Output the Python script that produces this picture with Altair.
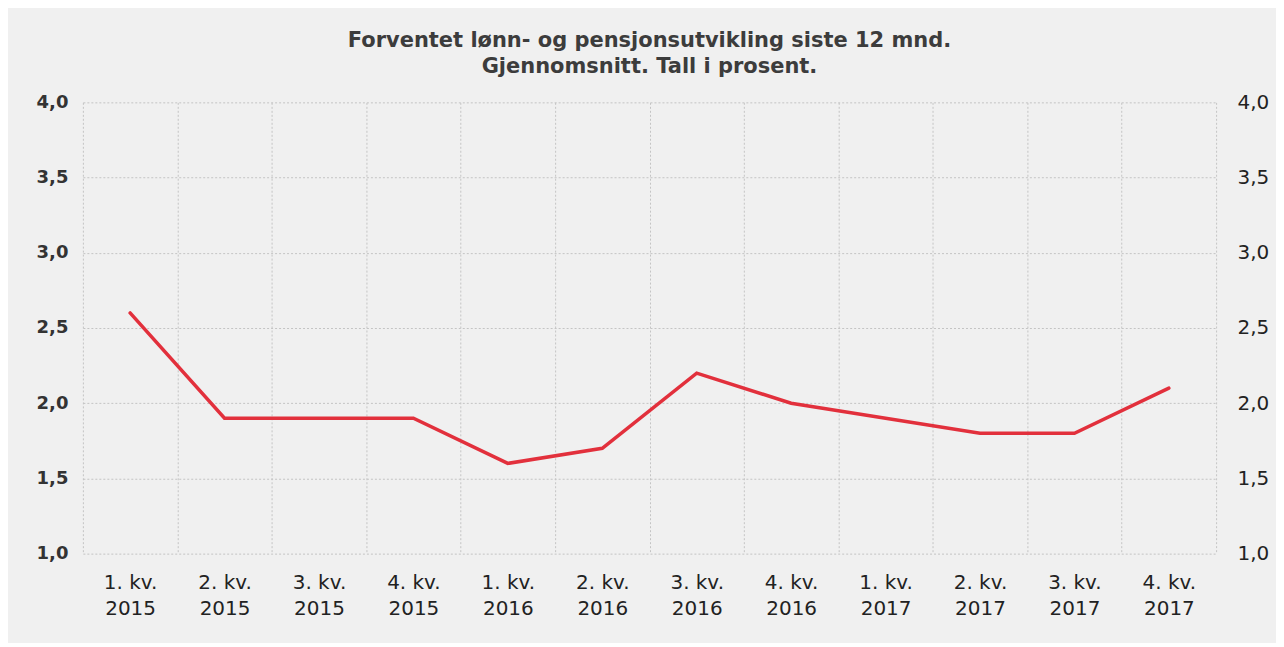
import altair as alt
import pandas as pd

quarters = ["1. kv. 2015", "2. kv. 2015", "3. kv. 2015", "4. kv. 2015",
            "1. kv. 2016", "2. kv. 2016", "3. kv. 2016", "4. kv. 2016",
            "1. kv. 2017", "2. kv. 2017", "3. kv. 2017", "4. kv. 2017"]
values = [2.6, 1.9, 1.9, 1.9, 1.6, 1.7, 2.2, 2.0, 1.9, 1.8, 1.8, 2.1]
y_ticks = [1.0, 1.5, 2.0, 2.5, 3.0, 3.5, 4.0]

df = pd.DataFrame({"q": quarters, "v": values})

FONT = "DejaVu Sans"
label_expr_y = "replace(format(datum.value, '.1f'), '.', ',')"

x_enc = alt.X(
    "q:N", sort=quarters, bandPosition=0.5,
    scale=alt.Scale(type="band", paddingInner=0, paddingOuter=0),
    axis=alt.Axis(title=None, tickBand="extent", grid=True, gridColor="#c4c4c4",
                  gridDash=[2, 2], gridWidth=1, ticks=False, domain=False,
                  labelAngle=0, labelFont=FONT, labelFontSize=20, labelColor="#222222",
                  labelPadding=19, labelLineHeight=26, labelBaseline="top",
                  labelExpr="[slice(datum.label, 0, 6), slice(datum.label, 7)]"),
)

y_scale = alt.Scale(domain=[1, 4], nice=False, zero=False)

left = alt.Chart(df).mark_line(color="#e2303c", strokeWidth=3.5, strokeCap="round",
                               strokeJoin="miter").encode(
    x=x_enc,
    y=alt.Y("v:Q", scale=y_scale,
            axis=alt.Axis(title=None, values=y_ticks, orient="left", grid=True,
                          gridColor="#c4c4c4", gridDash=[2, 2], gridWidth=1,
                          ticks=False, domain=False, labelFont=FONT, labelFontSize=18,
                          labelFontWeight="bold", labelColor="#333333", labelPadding=15,
                          labelExpr=label_expr_y)),
)

right = alt.Chart(df).mark_line(opacity=0).encode(
    x=x_enc,
    y=alt.Y("v:Q", scale=y_scale,
            axis=alt.Axis(title=None, values=y_ticks, orient="right", grid=False,
                          ticks=False, domain=False, labelFont=FONT, labelFontSize=20,
                          labelColor="#222222", labelPadding=21,
                          labelExpr=label_expr_y)),
)

chart = alt.layer(left, right).resolve_scale(y="independent").properties(
    width=1135, height=452,
    autosize=alt.AutoSizeParams(type="none"),
    padding={"left": 75, "top": 94, "right": 60, "bottom": 89},
    background="#f0f0f0",
    title=alt.TitleParams(
        text=["Forventet lønn- og pensjonsutvikling siste 12 mnd.",
              "Gjennomsnitt. Tall i prosent."],
        font=FONT, fontSize=21, fontWeight="bold", color="#3c3c3c",
        anchor="middle", lineHeight=26, offset=15,
    ),
).configure_view(stroke=None)

chart.save("out.html", embed_options={"renderer": "svg", "actions": False})
